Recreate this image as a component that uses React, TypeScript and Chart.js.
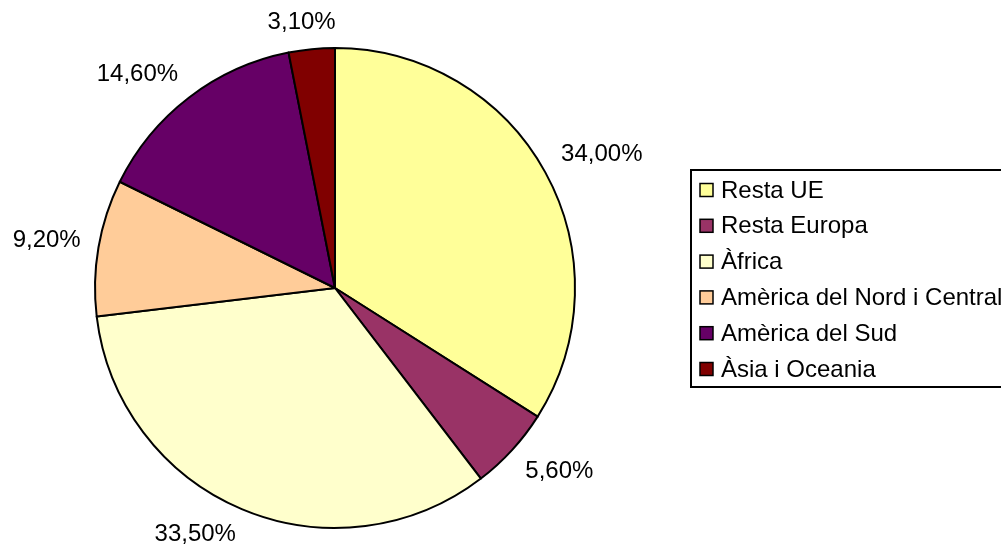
import React, { useEffect, useRef } from "react";
import { Chart, registerables } from "chart.js";

Chart.register(...registerables);

const categories = [
  "Resta UE",
  "Resta Europa",
  "Àfrica",
  "Amèrica del Nord i Central",
  "Amèrica del Sud",
  "Àsia i Oceania",
];
const values = [34.0, 5.6, 33.5, 9.2, 14.6, 3.1];
const valueLabels = ["34,00%", "5,60%", "33,50%", "9,20%", "14,60%", "3,10%"];
const colors = ["#FFFF99", "#993366", "#FFFFCC", "#FFCC99", "#660066", "#800000"];

const FONT = "'Liberation Sans', Arial, sans-serif";

const clamp = (v: number) => Math.max(-1, Math.min(1, v));

const labelPlugin = {
  id: "outsideLabels",
  afterDatasetsDraw(chart: any) {
    const ctx = chart.ctx;
    const meta = chart.getDatasetMeta(0);
    ctx.save();
    ctx.font = `24px ${FONT}`;
    ctx.fillStyle = "#000";
    ctx.textAlign = "center";
    ctx.textBaseline = "middle";
    meta.data.forEach((arc: any, i: number) => {
      const { x, y, startAngle, endAngle, outerRadius } = arc.getProps(
        ["x", "y", "startAngle", "endAngle", "outerRadius"],
        true
      );
      const mid = (startAngle + endAngle) / 2;
      const dx = Math.cos(mid);
      const dy = Math.sin(mid);
      const R = outerRadius + 18;
      const text = valueLabels[i];
      const w = ctx.measureText(text).width;
      const h = 18;
      const px = x + dx * R + (w / 2) * clamp(dx / 0.4);
      const py = y + dy * R + (h / 2) * clamp(dy / 0.4);
      ctx.fillText(text, px, py);
    });
    ctx.restore();
  },
};

const legendPlugin = {
  id: "boxLegend",
  afterDraw(chart: any) {
    const ctx = chart.ctx;
    const left = 691;
    const top = 170;
    const bottom = 387;
    const right = 1012;
    ctx.save();
    ctx.strokeStyle = "#000";
    ctx.lineWidth = 2;
    ctx.strokeRect(left, top, right - left, bottom - top);
    ctx.font = `24px ${FONT}`;
    ctx.textAlign = "left";
    ctx.textBaseline = "middle";
    const rowH = 35.8;
    const firstY = 190;
    chart.data.labels.forEach((lab: string, i: number) => {
      const cy = firstY + i * rowH;
      ctx.fillStyle = chart.data.datasets[0].backgroundColor[i];
      ctx.fillRect(700, cy - 6.5, 13, 13);
      ctx.lineWidth = 1.5;
      ctx.strokeStyle = "#000";
      ctx.strokeRect(700, cy - 6.5, 13, 13);
      ctx.fillStyle = "#000";
      ctx.fillText(lab, 721, cy + 1);
    });
    ctx.restore();
  },
};

export default function App() {
  const ref = useRef<HTMLCanvasElement>(null);
  useEffect(() => {
    if (!ref.current) return;
    const chart = new Chart(ref.current, {
      type: "pie",
      data: {
        labels: categories,
        datasets: [
          {
            data: values,
            backgroundColor: colors,
            borderColor: "#000",
            borderWidth: 2,
            borderJoinStyle: "round",
          },
        ],
      },
      options: {
        animation: false,
        responsive: false,
        maintainAspectRatio: false,
        radius: 240,
        layout: { padding: { left: 90, right: 421, top: 43, bottom: 20 } },
        plugins: {
          legend: { display: false },
          tooltip: { enabled: false },
        },
      } as any,
      plugins: [labelPlugin, legendPlugin],
    });
    return () => chart.destroy();
  }, []);
  return (
    <div style={{ position: "absolute", left: 0, top: 0, width: 1001, height: 553, background: "#fff" }}>
      <canvas ref={ref} width={1001} height={553} style={{ display: "block" }} />
    </div>
  );
}
